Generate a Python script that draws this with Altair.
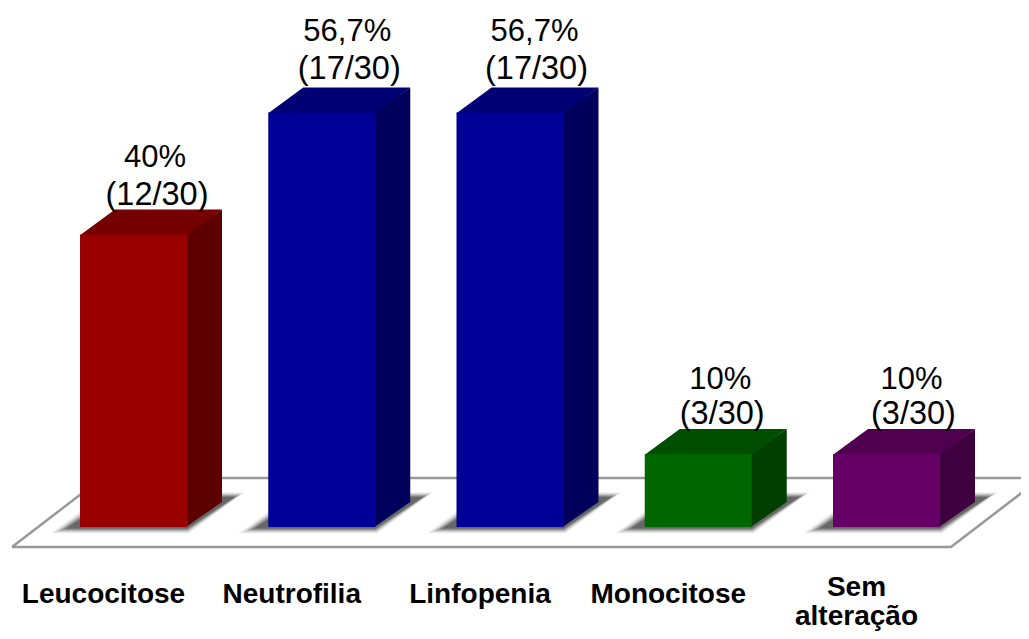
import altair as alt
import pandas as pd

categories = ["Leucocitose", "Neutrofilia", "Linfopenia", "Monocitose", "Sem alteração"]
percent = [40, 56.7, 56.7, 10, 10]
pct_labels = ["40%", "56,7%", "56,7%", "10%", "10%"]
count_labels = ["(12/30)", "(17/30)", "(17/30)", "(3/30)", "(3/30)"]
front_colors = ["#990000", "#000099", "#000099", "#006600", "#660066"]
top_colors = ["#750000", "#000075", "#000075", "#004f00", "#4f004f"]
side_colors = ["#5c0000", "#00005c", "#00005c", "#003f00", "#3f003f"]

W, H = 1013, 623
SLOT = 188.25          # px per category
PPU = 7.31             # px per percent
X0 = 125.5             # chart px of first bar centre
Y0 = 519.0             # chart px of value 0
xdom = [-X0 / SLOT, (W - X0) / SLOT]
ydom = [-(H - Y0) / PPU, Y0 / PPU]
HALF = 53.5 / SLOT
DX, DY = 35 / SLOT, 25 / PPU
CAT_DX = -30 / SLOT
# label placement above each bar, px: horizontal shift, first-line and second-line lift
label_shift = [23.5, 27.5, 26.5, 24, 27]
lift_pct = [68, 72, 72, 65, 65]
lift_count = [30, 34, 34, 30, 30]


def ux(px):
    return px / SLOT


def uy(px):
    return px / PPU


xs = alt.Scale(domain=xdom, nice=False, zero=False)
ys = alt.Scale(domain=ydom, nice=False, zero=False)


def face(points, color, opacity=1.0):
    df = pd.DataFrame(points, columns=["px", "lo", "hi"])
    return alt.Chart(df).mark_area(color=color, opacity=opacity, clip=True).encode(
        x=alt.X("px:Q", scale=xs, axis=None),
        y=alt.Y("lo:Q", scale=ys, axis=None),
        y2=alt.Y2("hi:Q"),
    )


def skew(l, r, bottom, top, d, color, opacity=1.0):
    return face([(l, bottom, bottom), (l + d, bottom, top), (r, bottom, top), (r + d, top, top)], color, opacity)


def fx(px):
    return (px - 8 - X0) / SLOT


def fy(px):
    return (Y0 - (px - 8)) / PPU


floor_x = [fx(12), fx(951), fx(1041), fx(102), fx(12)]
floor_y = [fy(547), fy(547), fy(478), fy(478), fy(547)]
floor = alt.Chart(pd.DataFrame({"x": floor_x, "y": floor_y, "o": range(5)})).mark_line(
    color="#999999", strokeWidth=2.5, clip=True
).encode(
    x=alt.X("x:Q", scale=xs, axis=None),
    y=alt.Y("y:Q", scale=ys, axis=None),
    order="o:Q",
)

faces = []
for i, v in enumerate(percent):
    l, r = i - HALF, i + HALF
    for t, op in [(0.0, 0.06), (0.2, 0.1), (0.4, 0.16), (0.6, 0.22), (0.8, 0.28), (1.0, 0.34)]:
        faces.append(skew(l - ux(30 - 16 * t), r + ux(2 - 2 * t),
                          -uy(6.5 - 5 * t), uy(35 - 5 * t), ux(56 - 8 * t),
                          "#333333", op))
for i, v in enumerate(percent):
    l, r = i - HALF, i + HALF
    faces.append(face([(r - ux(1), 0, v), (r + DX, DY, v + DY)], side_colors[i]))
    faces.append(skew(l, r, v - 0.1, v + DY, DX, top_colors[i]))

front = alt.Chart(pd.DataFrame({
    "x": [i - HALF for i in range(5)],
    "x2": [i + HALF for i in range(5)],
    "v": percent,
    "z": [0] * 5,
    "c": front_colors,
})).mark_rect().encode(
    x=alt.X("x:Q", scale=xs, axis=None),
    x2="x2:Q",
    y=alt.Y("v:Q", scale=ys, axis=None),
    y2="z:Q",
    fill=alt.Fill("c:N", scale=None),
)

label_df = pd.DataFrame({
    "x1": [i + ux(s - 2) for i, s in enumerate(label_shift)],
    "x2": [i + ux(s) for i, s in enumerate(label_shift)],
    "y1": [v + uy(a) for v, a in zip(percent, lift_pct)],
    "y2": [v + uy(a) for v, a in zip(percent, lift_count)],
    "t1": pct_labels,
    "t2": count_labels,
})


def text_layer(df, xf, yf, tf, size, weight="normal"):
    return alt.Chart(df).mark_text(
        font="Liberation Sans", fontSize=size, fontWeight=weight, color="#000000",
        align="center", baseline="alphabetic",
    ).encode(
        x=alt.X(f"{xf}:Q", scale=xs, axis=None),
        y=alt.Y(f"{yf}:Q", scale=ys, axis=None),
        text=f"{tf}:N",
    )


cat_rows = []
for i, c in enumerate(categories):
    parts = c.split(" ")
    baselines = [603] if len(parts) == 1 else [596, 625]
    for part, b in zip(parts, baselines):
        cat_rows.append(dict(x=i + CAT_DX, y=fy(b), t=part))
cat_df = pd.DataFrame(cat_rows)

chart = alt.layer(
    floor,
    *faces,
    front,
    text_layer(label_df, "x1", "y1", "t1", 31),
    text_layer(label_df, "x2", "y2", "t2", 32.5),
    text_layer(cat_df, "x", "y", "t", 28, "bold"),
).properties(
    width=W, height=H, padding=0, autosize=alt.AutoSizeParams(type="none"),
).configure_view(stroke=None)

chart.save("out.html", embed_options={"renderer": "svg", "actions": False})
